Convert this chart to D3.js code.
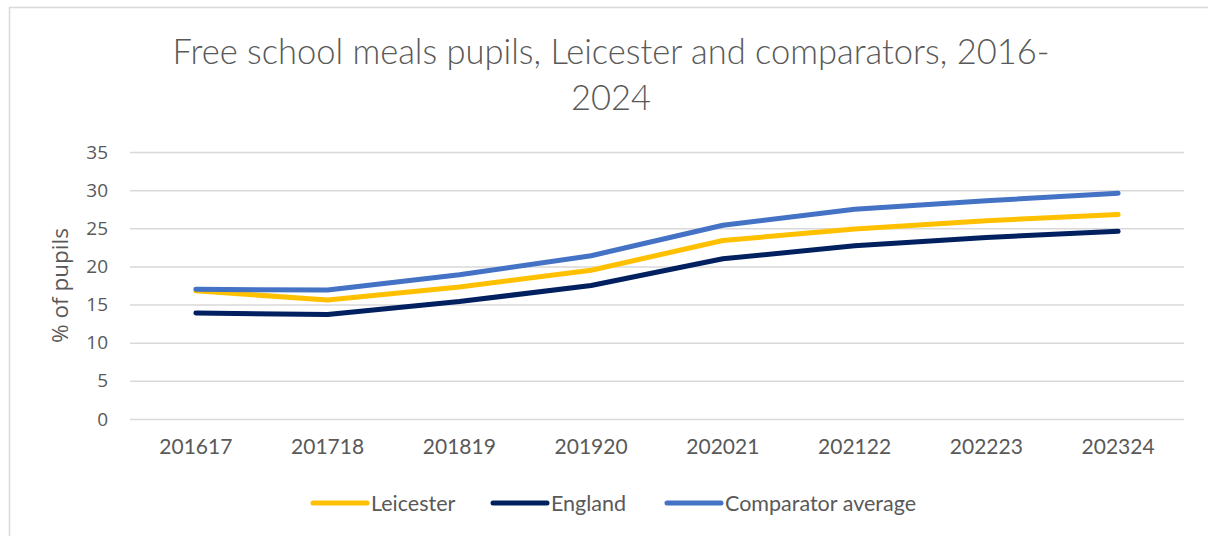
<!DOCTYPE html>
<html>
<head>
<meta charset="utf-8">
<script src="https://cdn.jsdelivr.net/npm/d3@7"></script>
<style>
  html, body { margin: 0; padding: 0; background: #fff; }
  svg { display: block; }
</style>
</head>
<body>
<script>
// School years (academic year codes) and % of pupils eligible for free school meals
const years = ["201617", "201718", "201819", "201920", "202021", "202122", "202223", "202324"];
const leicester = [16.8, 15.6, 17.3, 19.5, 23.4, 24.9, 26.0, 26.8];
const england = [13.9, 13.7, 15.4, 17.5, 21.0, 22.7, 23.8, 24.6];
const comparatorAverage = [17.0, 16.9, 18.9, 21.4, 25.4, 27.5, 28.6, 29.6];
const yTicks = [0, 5, 10, 15, 20, 25, 30, 35];

const series = [
  { name: "Leicester", values: leicester, color: "#FFC000" },
  { name: "England", values: england, color: "#002060" },
  { name: "Comparator average", values: comparatorAverage, color: "#4472C4" }
];

const W = 1208, H = 536;
const plot = { left: 130, right: 1184, top: 152, bottom: 419 };
const textColor = "#595959";
const font = "Lato, 'Open Sans', sans-serif";
const sans = "'Open Sans', 'Noto Sans', sans-serif";

const svg = d3.select("body").append("svg").attr("width", W).attr("height", H);

// chart frame
svg.append("rect")
  .attr("x", 9.5).attr("y", 7.5)
  .attr("width", W + 10).attr("height", H + 10)
  .attr("fill", "#fff").attr("stroke", "#D9D9D9").attr("stroke-width", 1.5);

// title
const title = svg.append("text")
  .attr("text-anchor", "middle")
  .attr("fill", textColor)
  .style("font-family", font)
  .style("font-weight", 300)
  .style("font-size", "34.5px");
title.append("tspan").attr("x", 611).attr("y", 64).text("Free school meals pupils, Leicester and comparators, 2016-");
title.append("tspan").attr("x", 611).attr("y", 110).text("2024");

const x = d3.scaleBand().domain(years).range([plot.left, plot.right]);
const y = d3.scaleLinear().domain([0, 35]).range([plot.bottom, plot.top]);

// horizontal gridlines + y labels
const yAxis = d3.axisLeft(y).tickValues(yTicks).tickSize(-(plot.right - plot.left)).tickPadding(22);
const gy = svg.append("g").attr("transform", `translate(${plot.left},0)`).call(yAxis);
gy.select(".domain").remove();
gy.selectAll(".tick line").attr("stroke", "#D9D9D9").attr("stroke-width", 1.5);
gy.selectAll(".tick text")
  .attr("fill", textColor)
  .style("font-family", sans)
  .style("font-size", "19px");

// x axis labels
const xAxis = d3.axisBottom(x).tickSize(0).tickPadding(20);
const gx = svg.append("g").attr("transform", `translate(0,${plot.bottom})`).call(xAxis);
gx.select(".domain").remove();
gx.selectAll(".tick text")
  .attr("fill", textColor)
  .style("font-family", font)
  .style("font-size", "21px");

// y axis title
svg.append("text")
  .attr("transform", `translate(68,${(plot.top + plot.bottom) / 2}) rotate(-90)`)
  .attr("text-anchor", "middle")
  .attr("fill", textColor)
  .style("font-family", sans)
  .style("font-size", "22.5px")
  .text("% of pupils");

// series lines
const line = d3.line()
  .x((d, i) => x(years[i]) + x.bandwidth() / 2)
  .y(d => y(d));

svg.append("g").selectAll("path")
  .data(series)
  .join("path")
  .attr("d", s => line(s.values))
  .attr("fill", "none")
  .attr("stroke", s => s.color)
  .attr("stroke-width", 5)
  .attr("stroke-linejoin", "round")
  .attr("stroke-linecap", "round");

// legend
const legendX = [313, 493, 667];
const legend = svg.append("g").selectAll("g")
  .data(series)
  .join("g")
  .attr("transform", (s, i) => `translate(${legendX[i]},503)`);
legend.append("line")
  .attr("x1", 0).attr("x2", 54)
  .attr("stroke", s => s.color)
  .attr("stroke-width", 5)
  .attr("stroke-linecap", "round");
legend.append("text")
  .attr("x", 58).attr("y", 0).attr("dy", "0.35em")
  .attr("fill", textColor)
  .style("font-family", font)
  .style("font-size", "21.5px")
  .text(s => s.name);
</script>
</body>
</html>
